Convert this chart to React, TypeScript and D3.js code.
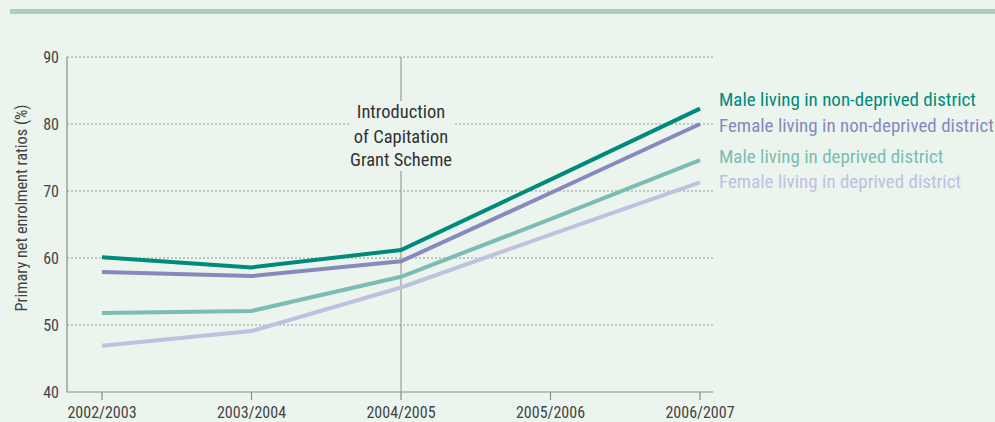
import * as d3 from "d3";

const years = ["2002/2003", "2003/2004", "2004/2005", "2005/2006", "2006/2007"];
const maleNonDeprived = [60.1, 58.6, 61.2, 71.7, 82.3];
const femaleNonDeprived = [57.9, 57.3, 59.5, 69.7, 80.0];
const maleDeprived = [51.8, 52.1, 57.2, 65.8, 74.6];
const femaleDeprived = [46.9, 49.1, 55.6, 63.5, 71.3];
const yTicks = [40, 50, 60, 70, 80, 90];

const series = [
  { name: "Male living in non-deprived district", values: maleNonDeprived, color: "#008a7b", labelY: 99 },
  { name: "Female living in non-deprived district", values: femaleNonDeprived, color: "#8789be", labelY: 125 },
  { name: "Male living in deprived district", values: maleDeprived, color: "#7bbcb4", labelY: 156 },
  { name: "Female living in deprived district", values: femaleDeprived, color: "#bfc1df", labelY: 181 },
];

const W = 995;
const H = 422;
const font = "'Liberation Sans Narrow', 'Roboto Condensed', 'Arial Narrow', sans-serif";
const bg = "#ebf5ee";

export default function App() {
  const x = d3.scalePoint<string>().domain(years).range([102, 700]);
  const y = d3.scaleLinear().domain([40, 90]).range([392, 57]);
  const line = d3
    .line<number>()
    .x((_, i) => x(years[i]) as number)
    .y((d) => y(d));
  const axisLeft = 67;
  const axisRight = 713;
  const markX = x("2004/2005") as number;

  return (
    <svg width={W} height={H} style={{ position: "absolute", left: 0, top: 0, background: bg }} fontFamily={font}>
      <rect x={0} y={0} width={W} height={H} fill={bg} />
      <rect x={10} y={9} width={W - 10} height={5} fill="#a9d0bf" />

      {/* gridlines */}
      {yTicks.filter((t) => t > 40).map((t) => (
        <line key={t} x1={axisLeft} x2={axisRight} y1={y(t)} y2={y(t)} stroke="#999" strokeWidth={1} strokeDasharray="2,2" />
      ))}

      {/* introduction marker */}
      <line x1={markX} x2={markX} y1={y(90)} y2={y(40)} stroke="#8c8c8c" strokeWidth={1} />
      <rect x={markX - 52} y={101} width={104} height={70} fill={bg} />
      <g fill="#333" fontSize={18.5} textAnchor="middle">
        <text x={markX} y={118}>Introduction</text>
        <text x={markX} y={143}>of Capitation</text>
        <text x={markX} y={166}>Grant Scheme</text>
      </g>

      {/* axes */}
      <line x1={axisLeft} x2={axisLeft} y1={y(90)} y2={y(40)} stroke="#8c8c8c" strokeWidth={1.2} />
      <line x1={axisLeft} x2={axisRight} y1={y(40)} y2={y(40)} stroke="#8c8c8c" strokeWidth={1.2} />
      {yTicks.map((t) => (
        <text key={t} x={axisLeft - 8} y={y(t) + 6} textAnchor="end" fontSize={16} fill="#444">
          {t}
        </text>
      ))}
      {years.map((yr) => (
        <g key={yr}>
          <line x1={x(yr)} x2={x(yr)} y1={y(40)} y2={y(40) + 8} stroke="#8c8c8c" strokeWidth={1.2} />
          <text x={x(yr)} y={418} textAnchor="middle" fontSize={16} fill="#444">
            {yr}
          </text>
        </g>
      ))}
      <text
        transform={`translate(27,${208}) rotate(-90)`}
        textAnchor="middle"
        fontSize={16.3}
        fill="#444"
      >
        Primary net enrolment ratios (%)
      </text>

      {/* lines */}
      {[...series].reverse().map((s) => (
        <path key={s.name} d={line(s.values) ?? ""} fill="none" stroke={s.color} strokeWidth={4} />
      ))}

      {/* labels */}
      {series.map((s) => (
        <text key={s.name} x={719} y={s.labelY + 6.5} fontSize={19} fill={s.color}>
          {s.name}
        </text>
      ))}
    </svg>
  );
}
